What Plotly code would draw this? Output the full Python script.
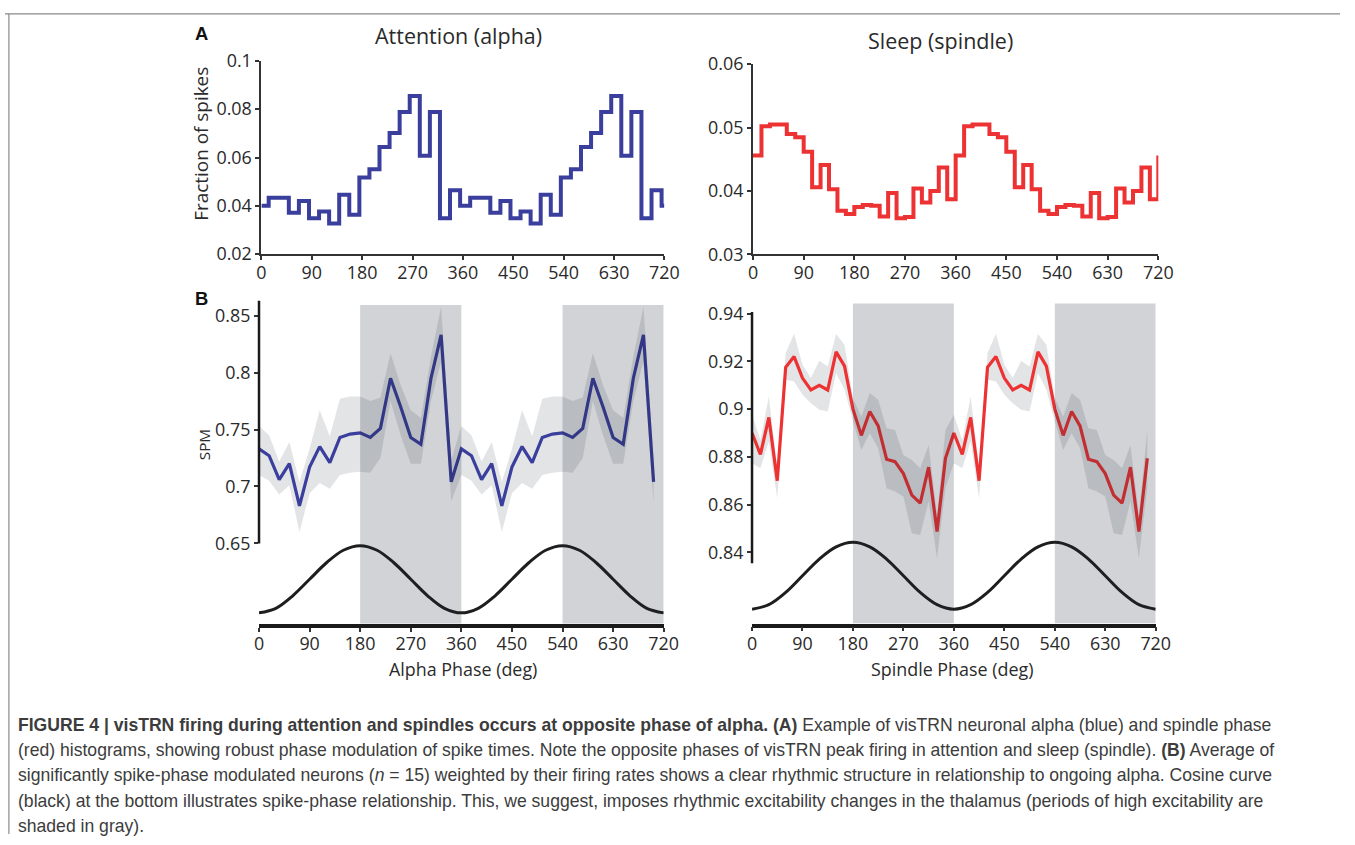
import plotly.graph_objects as go

# ---------------- data ----------------
# Panel A (attention / alpha): histogram bins (left edges, deg) and fraction of spikes
alpha_bin_edges = [0, 13, 31, 49, 67, 85, 103, 121, 139, 157, 175, 193, 211, 229, 247, 265, 283, 301, 319, 337,
                   355, 373, 391, 409, 427, 445, 463, 481, 499, 517, 535, 553, 571, 589, 607, 625, 643, 661, 679,
                   697, 715]
alpha_frac = [0.040,
              0.0434, 0.0434, 0.0372, 0.0420, 0.0349, 0.0377, 0.0327, 0.0446, 0.0363, 0.0517,
              0.0552, 0.0644, 0.0702, 0.0788, 0.0855, 0.0607, 0.0788, 0.0349, 0.0465, 0.0400,
              0.0434, 0.0434, 0.0372, 0.0420, 0.0349, 0.0377, 0.0327, 0.0446, 0.0363, 0.0517,
              0.0552, 0.0644, 0.0702, 0.0788, 0.0855, 0.0607, 0.0788, 0.0349, 0.0465, 0.0400]

# Panel A (sleep / spindle): histogram bins (left edges, deg) and fraction of spikes
spindle_bin_edges = list(range(0, 720, 15))
spindle_frac = [0.0456, 0.0502, 0.0505, 0.0505, 0.0490, 0.0485, 0.0462, 0.0406, 0.0441, 0.0403, 0.0369, 0.0364,
                0.0375, 0.0378, 0.0377, 0.0360, 0.0397, 0.0357, 0.0359, 0.0404, 0.0382, 0.0400, 0.0437, 0.0387,
                0.0456, 0.0502, 0.0505, 0.0505, 0.0490, 0.0485, 0.0462, 0.0406, 0.0441, 0.0403, 0.0369, 0.0364,
                0.0375, 0.0378, 0.0377, 0.0360, 0.0397, 0.0357, 0.0359, 0.0404, 0.0382, 0.0400, 0.0437, 0.0387]

# Panel B (alpha): SPM mean and band
alpha_phase = list(range(0, 720, 18))
alpha_spm = [0.733, 0.727, 0.706, 0.720, 0.683, 0.717, 0.735, 0.721, 0.743, 0.746,
             0.747, 0.743, 0.751, 0.795, 0.770, 0.743, 0.737, 0.795, 0.833, 0.704,
             0.733, 0.727, 0.706, 0.720, 0.683, 0.717, 0.735, 0.721, 0.743, 0.746,
             0.747, 0.743, 0.751, 0.795, 0.770, 0.743, 0.737, 0.795, 0.833, 0.704]
alpha_upper = [0.753, 0.745, 0.722, 0.739, 0.704, 0.733, 0.767, 0.744, 0.777, 0.779,
               0.779, 0.775, 0.778, 0.817, 0.789, 0.767, 0.760, 0.814, 0.858, 0.723,
               0.753, 0.745, 0.722, 0.739, 0.704, 0.733, 0.767, 0.744, 0.777, 0.779,
               0.779, 0.775, 0.778, 0.817, 0.789, 0.767, 0.760, 0.814, 0.858, 0.723]
alpha_lower = [0.710, 0.705, 0.693, 0.701, 0.660, 0.694, 0.703, 0.698, 0.710, 0.712,
               0.713, 0.712, 0.725, 0.775, 0.745, 0.720, 0.720, 0.775, 0.810, 0.687,
               0.710, 0.705, 0.693, 0.701, 0.660, 0.694, 0.703, 0.698, 0.710, 0.712,
               0.713, 0.712, 0.725, 0.775, 0.745, 0.720, 0.720, 0.775, 0.810, 0.685]

# Panel B (spindle): SPM mean and band
spindle_phase = list(range(0, 720, 15))
spindle_spm = [0.890, 0.881, 0.8965, 0.870, 0.9175, 0.922, 0.913, 0.908, 0.910, 0.908, 0.924, 0.918,
               0.900, 0.889, 0.899, 0.893, 0.879, 0.878, 0.873, 0.864, 0.8606, 0.8757, 0.8487, 0.8794,
               0.890, 0.881, 0.8965, 0.870, 0.9175, 0.922, 0.913, 0.908, 0.910, 0.908, 0.924, 0.918,
               0.900, 0.889, 0.899, 0.893, 0.879, 0.878, 0.873, 0.864, 0.8606, 0.8757, 0.8487, 0.8794]
spindle_upper = [0.8976, 0.8871, 0.9053, 0.8752, 0.9235, 0.9316, 0.9186, 0.913, 0.9203, 0.9179, 0.9315, 0.927,
                 0.9046, 0.8969, 0.9067, 0.9039, 0.892, 0.8913, 0.8808, 0.8787, 0.8752, 0.885, 0.8557, 0.8913,
                 0.8976, 0.8871, 0.9053, 0.8752, 0.9235, 0.9316, 0.9186, 0.913, 0.9203, 0.9179, 0.9315, 0.927,
                 0.9046, 0.8969, 0.9067, 0.9039, 0.892, 0.8913, 0.8808, 0.8787, 0.8752, 0.885, 0.8557, 0.8913]
spindle_lower = [0.8773, 0.8752, 0.8864, 0.8627, 0.9123, 0.9116, 0.906, 0.9025, 0.8997, 0.899, 0.9151, 0.9081,
                 0.8948, 0.8829, 0.8899, 0.8836, 0.8669, 0.8655, 0.8634, 0.848, 0.8473, 0.8613, 0.8375, 0.8669,
                 0.8773, 0.8752, 0.8864, 0.8627, 0.9123, 0.9116, 0.906, 0.9025, 0.8997, 0.899, 0.9151, 0.9081,
                 0.8948, 0.8829, 0.8899, 0.8836, 0.8669, 0.8655, 0.8634, 0.848, 0.8473, 0.8613, 0.8375, 0.8669]

# Cosine reference curve (every 30 deg)
cos_phase = list(range(0, 721, 30))
alpha_cos = [0.589, 0.593, 0.604, 0.6185, 0.633, 0.644, 0.648, 0.644, 0.633, 0.6185, 0.604, 0.593,
             0.589, 0.593, 0.604, 0.6185, 0.633, 0.644, 0.648, 0.644, 0.633, 0.6185, 0.604, 0.593, 0.589]
spindle_cos = [0.8162, 0.8181, 0.8232, 0.8302, 0.8372, 0.8423, 0.8442, 0.8423, 0.8372, 0.8302, 0.8232, 0.8181,
               0.8162, 0.8181, 0.8232, 0.8302, 0.8372, 0.8423, 0.8442, 0.8423, 0.8372, 0.8302, 0.8232, 0.8181,
               0.8162]

# High-excitability periods (shaded)
shade_start = [180, 540]
shade_end = [360, 720]

xticks = [0, 90, 180, 270, 360, 450, 540, 630, 720]

# ---------------- styling ----------------
W, H = 1355, 845
BLUE = '#3a3e9c'
RED = '#ec3232'
AX = '#333333'
FONT = 'Open Sans'
FS = 1.0225  # font scale compensating the slight shrink of the photographed page

# page positions below are given in target-picture pixels and mapped to figure pixels
SX, OX = 0.986, 4.1
SY, OY = 0.970, 12.2


def fx(p):
    return ((p - OX) / SX) / W


def fy(p):
    return 1 - ((p - OY) / SY) / H


fig = go.Figure()

# Panel A traces
fig.add_trace(go.Scatter(x=alpha_bin_edges + [720], y=alpha_frac + [alpha_frac[-1]], mode='lines',
                         line=dict(color=BLUE, width=4, shape='hv'), xaxis='x', yaxis='y', hoverinfo='skip'))
fig.add_trace(go.Scatter(x=spindle_bin_edges + [720], y=spindle_frac + [spindle_frac[0]], mode='lines',
                         line=dict(color=RED, width=4, shape='hv'), xaxis='x2', yaxis='y2', hoverinfo='skip'))

# Panel B traces
band_fill = 'rgba(13,30,47,0.12)'
fig.add_trace(go.Scatter(x=alpha_phase + alpha_phase[::-1], y=alpha_upper + alpha_lower[::-1], fill='toself',
                         fillcolor=band_fill, line=dict(width=0), mode='lines', xaxis='x3', yaxis='y3',
                         hoverinfo='skip'))
fig.add_trace(go.Scatter(x=alpha_phase, y=alpha_spm, mode='lines', line=dict(color=BLUE, width=3.2),
                         xaxis='x3', yaxis='y3', hoverinfo='skip'))
fig.add_trace(go.Scatter(x=cos_phase, y=alpha_cos, mode='lines', line=dict(color='#1e1e1e', width=3, shape='spline'),
                         xaxis='x3', yaxis='y3', hoverinfo='skip'))

fig.add_trace(go.Scatter(x=spindle_phase + spindle_phase[::-1], y=spindle_upper + spindle_lower[::-1],
                         fill='toself', fillcolor=band_fill, line=dict(width=0), mode='lines', xaxis='x4',
                         yaxis='y4', hoverinfo='skip'))
fig.add_trace(go.Scatter(x=spindle_phase, y=spindle_spm, mode='lines', line=dict(color=RED, width=3.2),
                         xaxis='x4', yaxis='y4', hoverinfo='skip'))
fig.add_trace(go.Scatter(x=cos_phase, y=spindle_cos, mode='lines',
                         line=dict(color='#1e1e1e', width=3, shape='spline'),
                         xaxis='x4', yaxis='y4', hoverinfo='skip'))

tickfont = dict(family=FONT, size=17.5 * FS, color='#2a2a2a')


def xax(dom_px, top_panel=True):
    d = dict(domain=[fx(dom_px[0]), fx(dom_px[1])], range=[0, 720], tickvals=xticks,
             ticktext=[str(t) for t in xticks], showgrid=False, zeroline=False, showline=True,
             ticks='outside', ticklen=4, tickwidth=1.5, tickcolor=AX, tickfont=tickfont, fixedrange=True,
             ticklabelstandoff=-3)
    if top_panel:
        d.update(linecolor=AX, linewidth=2)
    else:
        d.update(linecolor='#1a1a1a', linewidth=3.5)
    return d


def yax(dom_px, rng, vals, texts, anchor, showline=True):
    return dict(domain=[fy(dom_px[1]), fy(dom_px[0])], range=rng, tickvals=vals, ticktext=texts,
                showgrid=False, zeroline=False, showline=showline, linecolor=AX, linewidth=2,
                ticks='outside', ticklen=4, tickwidth=1.5, tickcolor=AX, tickfont=tickfont,
                anchor=anchor, fixedrange=True)


layout = dict(
    width=W, height=H, margin=dict(l=0, r=0, t=0, b=0, pad=0), showlegend=False,
    paper_bgcolor='white', plot_bgcolor='rgba(0,0,0,0)',
    xaxis=dict(xax((260.7, 664)), anchor='y'),
    yaxis=yax((60, 253), [0.02, 0.1], [0.02, 0.04, 0.06, 0.08, 0.1], ['0.02', '0.04', '0.06', '0.08', '0.1'], 'x'),
    xaxis2=dict(xax((752.7, 1158.3)), anchor='y2'),
    yaxis2=yax((63.3, 253.3), [0.03, 0.06], [0.03, 0.04, 0.05, 0.06], ['0.03', '0.04', '0.05', '0.06'], 'x2'),
    xaxis3=dict(xax((258.3, 663.3), False), anchor='y3'),
    yaxis3=yax((299.3, 622), [0.5794, 0.8632], [0.65, 0.7, 0.75, 0.8, 0.85],
               ['0.65', '0.7', '0.75', '0.8', '0.85'], 'x3', showline=False),
    xaxis4=dict(xax((751.7, 1155.7), False), anchor='y4'),
    yaxis4=yax((301.6, 621.7), [0.8102, 0.9445], [0.84, 0.86, 0.88, 0.9, 0.92, 0.94],
               ['0.84', '0.86', '0.88', '0.9', '0.92', '0.94'], 'x4', showline=False),
)
fig.update_layout(**layout)

shapes = []
# shaded high-excitability periods (drawn above traces: darkens what lies beneath)
for s, e in zip(shade_start, shade_end):
    shapes.append(dict(type='rect', xref='x3', yref='y3', x0=s, x1=e, y0=0.5794, y1=0.8594,
                       fillcolor='rgba(25,35,50,0.2)', line=dict(width=0), layer='above'))
    shapes.append(dict(type='rect', xref='x4', yref='y4', x0=s, x1=e, y0=0.8102, y1=0.9442,
                       fillcolor='rgba(25,35,50,0.2)', line=dict(width=0), layer='above'))
# partial y-axis lines of panel B
shapes.append(dict(type='line', xref='x3 domain', yref='y3', x0=0, x1=0, y0=0.65, y1=0.8632,
                   line=dict(color='#1a1a1a', width=2.5)))
shapes.append(dict(type='line', xref='x4 domain', yref='y4', x0=0, x1=0, y0=0.8354, y1=0.9407,
                   line=dict(color='#1a1a1a', width=2.5)))
# page frame lines
top_y = 1 - 0.8 / H
shapes.append(dict(type='line', xref='paper', yref='paper', x0=0, x1=1, y0=top_y, y1=top_y,
                   line=dict(color='#8a8a8a', width=1.2)))
shapes.append(dict(type='line', xref='paper', yref='paper', x0=fx(8), x1=fx(8), y0=0, y1=top_y,
                   line=dict(color='#8a8a8a', width=1.2)))
fig.update_layout(shapes=shapes)

ann = []


def text(x, y, s, size, family=FONT, color='#2a2a2a', xanchor='center', angle=0):
    ann.append(dict(x=fx(x), y=fy(y), xref='paper', yref='paper', text=s, showarrow=False,
                    xanchor=xanchor, yanchor='middle', textangle=angle,
                    font=dict(family=family, size=size * FS, color=color)))


text(201, 33, '<b>A</b>', 18, family='Liberation Sans', color='#111')
text(201, 297, '<b>B</b>', 18, family='Liberation Sans', color='#111')
text(458, 35, 'Attention (alpha)', 21)
text(940, 40, 'Sleep (spindle)', 21)
text(200, 143, 'Fraction of spikes', 18.5, angle=-90)
text(203, 443, 'SPM', 15, angle=-90)
text(462, 667, 'Alpha Phase (deg)', 17.5)
text(952, 667, 'Spindle Phase (deg)', 17.5)

cap_font = 'Liberation Sans'
cap_col = '#3c3c3c'
cap_lines = [
    '<b>FIGURE 4 | visTRN firing during attention and spindles occurs at opposite phase of alpha. (A)</b> '
    'Example of visTRN neuronal alpha (blue) and spindle phase',
    '(red) histograms, showing robust phase modulation of spike times. Note the opposite phases of visTRN peak '
    'firing in attention and sleep (spindle). <b>(B)</b> Average of',
    'significantly spike-phase modulated neurons (<i>n</i> = 15) weighted by their firing rates shows a clear '
    'rhythmic structure in relationship to ongoing alpha. Cosine curve',
    '(black) at the bottom illustrates spike-phase relationship. This, we suggest, imposes rhythmic excitability '
    'changes in the thalamus (periods of high excitability are',
    'shaded in gray).',
]
cap_y = [723, 748, 773, 799, 824]
for s, y in zip(cap_lines, cap_y):
    text(15, y, s, 17.2, family=cap_font, color=cap_col, xanchor='left')

fig.update_layout(annotations=ann)

fig.write_html('out.html',
               config={'displayModeBar': False},
               post_script="document.documentElement.style.margin='0';document.body.style.margin='0';"
                           "document.documentElement.style.overflow='hidden';document.body.style.overflow='hidden';")
